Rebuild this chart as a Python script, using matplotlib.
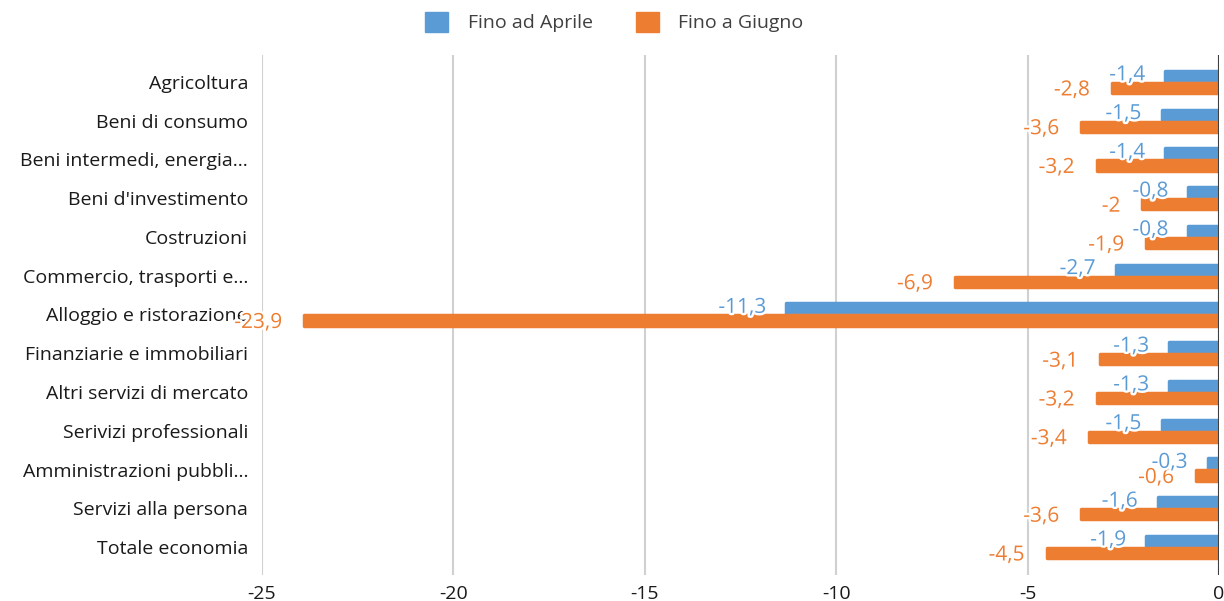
import matplotlib
matplotlib.use("Agg")
import matplotlib.pyplot as plt
import matplotlib.patheffects as pe
from matplotlib.patches import Patch
import numpy as np

categories = ["Agricoltura", "Beni di consumo", "Beni intermedi, energia…",
              "Beni d'investimento", "Costruzioni", "Commercio, trasporti e…",
              "Alloggio e ristorazione", "Finanziarie e immobiliari",
              "Altri servizi di mercato", "Serivizi professionali",
              "Amministrazioni pubbli…", "Servizi alla persona", "Totale economia"]
aprile = [-1.4, -1.5, -1.4, -0.8, -0.8, -2.7, -11.3, -1.3, -1.3, -1.5, -0.3, -1.6, -1.9]
giugno = [-2.8, -3.6, -3.2, -2.0, -1.9, -6.9, -23.9, -3.1, -3.2, -3.4, -0.6, -3.6, -4.5]
series_names = ["Fino ad Aprile", "Fino a Giugno"]
xticks = [-25, -20, -15, -10, -5, 0]

BLUE = "#5B9BD5"
ORANGE = "#ED7D31"
FONT = "Open Sans"

def fmt(v):
    return ("%g" % v).replace(".", ",")

fig = plt.figure(figsize=(12.24, 6.01), dpi=100)
ax = fig.add_axes([262/1224, 1-575/601, (1219-262)/1224, (575-55)/601])

y = np.arange(len(categories))
h = 0.26
off = 0.155
ax.barh(y - off, aprile, height=h, color=BLUE, edgecolor=BLUE, linewidth=2.5,
        joinstyle="round", zorder=3)
ax.barh(y + off, giugno, height=h, color=ORANGE, edgecolor=ORANGE, linewidth=2.5,
        joinstyle="round", zorder=3)

stroke = [pe.withStroke(linewidth=3.5, foreground="white")]
for yi, v in zip(y, aprile):
    ax.annotate(fmt(v), (v, yi - off - 0.03), xytext=(-20, 0), textcoords="offset pixels",
                ha="right", va="center", color=BLUE, fontsize=15, family=FONT,
                path_effects=stroke, zorder=5)
for yi, v in zip(y, giugno):
    ax.annotate(fmt(v), (v, yi + off + 0.05), xytext=(-22, 0), textcoords="offset pixels",
                ha="right", va="center", color=ORANGE, fontsize=15, family=FONT,
                path_effects=stroke, zorder=4)

ax.set_xlim(-25, 0)
ax.set_ylim(12.5 + 8.6/38.75, -0.5 - 7.6/38.75)
ax.set_xticks(xticks)
ax.set_xticklabels([str(t) for t in xticks], fontsize=14, family=FONT, color="#1a1a1a")
ax.set_yticks(y)
ax.set_yticklabels(categories, fontsize=14, family=FONT, color="#1a1a1a")
ax.tick_params(axis="both", length=0)
ax.tick_params(axis="x", pad=7)
ax.tick_params(axis="y", pad=10)
for s in ax.spines.values():
    s.set_visible(False)
ax.grid(axis="x", color="#D0D0D0", linewidth=1.5, zorder=0)
ax.set_axisbelow(True)
ax.axvline(0, color="#404040", linewidth=1.5, zorder=6)

handles = [Patch(facecolor=BLUE, edgecolor=BLUE), Patch(facecolor=ORANGE, edgecolor=ORANGE)]
fig.legend(handles, series_names, loc="center", bbox_to_anchor=(0.502, 1-22/601), ncol=2,
           frameon=False, prop={"family": FONT, "size": 14}, labelcolor="#404040",
           handlelength=1.2, handleheight=1.2, columnspacing=2.2, handletextpad=1.0)

fig.savefig("out.png", dpi=100)
